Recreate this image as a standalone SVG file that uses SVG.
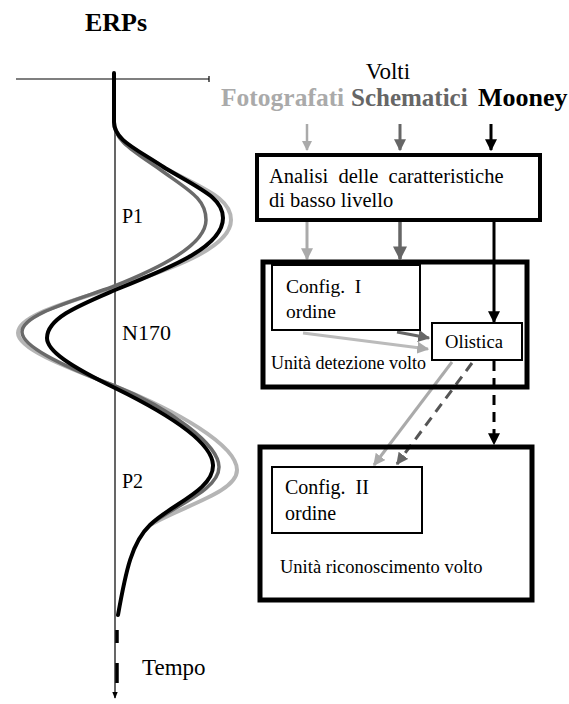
<svg xmlns="http://www.w3.org/2000/svg" width="569" height="704" viewBox="0 0 569 704">
<style>
text{font-family:'Liberation Serif','Times New Roman',serif;fill:#000}
.box{fill:#fff;stroke:#000}
.ax{stroke:#000;stroke-width:1.2;fill:none}
.crv{fill:none;stroke-linecap:round}
</style>
<defs>
<marker id="aL" viewBox="0 0 10 10" refX="9" refY="5" markerWidth="4" markerHeight="4" orient="auto"><path d="M0,0L10,5L0,10z" fill="#aaa"/></marker>
<marker id="aG" viewBox="0 0 10 10" refX="9" refY="5" markerWidth="4" markerHeight="4" orient="auto"><path d="M0,0L10,5L0,10z" fill="#666"/></marker>
<marker id="aB" viewBox="0 0 10 10" refX="9" refY="5" markerWidth="4" markerHeight="4" orient="auto"><path d="M0,0L10,5L0,10z" fill="#000"/></marker>
<marker id="aS" viewBox="0 0 10 10" refX="9" refY="5" markerWidth="6" markerHeight="6" orient="auto"><path d="M0,1L10,5L0,9z" fill="#000"/></marker>
</defs>

<g id="erp-plot">
<text x="116" y="31" font-size="26" font-weight="bold" text-anchor="middle">ERPs</text>
<line class="ax" x1="16" y1="79" x2="209" y2="79"/>
<line class="ax" x1="209" y1="76" x2="209" y2="82"/>
<line class="ax" x1="115" y1="79" x2="115" y2="698" marker-end="url(#aS)"/>
<path class="crv" stroke="#b5b5b5" stroke-width="4" d="M114,122 C114,140 135,150 165,168 C205,190 231,198 231,220 C231,248 170,270 112,288 C70,302 18,315 18,333 C18,348 60,365 115,386 C175,410 237,445 237,470 C237,492 185,505 150,525"/>
<path class="crv" stroke="#6a6a6a" stroke-width="3.5" d="M114,122 C114,140 132,150 158,168 C188,190 206,198 206,220 C206,245 160,268 112,287 C70,302 22,315 22,332 C22,346 60,365 115,386 C170,408 219,445 219,467 C219,490 175,505 150,525"/>
<path class="crv" stroke="#000" stroke-width="4" d="M114,73 L114,122 C114,140 135,148 165,168 C202,190 223,198 223,218 C223,246 175,266 115,290 C80,305 47,318 47,338 C47,351 70,366 115,388 C160,410 212,440 213,465 C214,490 170,505 150,525 C132,542 126,570 118,615"/>
<path d="M117,630 L117,643 M117,663 L117,683" stroke="#000" stroke-width="3.5"/>
<text x="122" y="223" font-size="20">P1</text>
<text x="122" y="340" font-size="22">N170</text>
<text x="122" y="488" font-size="20">P2</text>
<text x="142" y="675" font-size="23">Tempo</text>
</g>

<g id="inputs">
<text x="388" y="79" font-size="23" text-anchor="middle">Volti</text>
<text x="221" y="106" font-size="25.5" font-weight="bold" style="fill:#aaa">Fotografati</text>
<text x="351" y="106" font-size="25" font-weight="bold" style="fill:#666">Schematici</text>
<text x="478" y="106" font-size="26" font-weight="bold">Mooney</text>
</g>

<g id="connectors" fill="none">
<line x1="307" y1="124" x2="307" y2="150" stroke="#aaa" stroke-width="2.5" marker-end="url(#aL)"/>
<line x1="400" y1="124" x2="400" y2="150" stroke="#666" stroke-width="3" marker-end="url(#aG)"/>
<line x1="491" y1="124" x2="491" y2="150" stroke="#000" stroke-width="3" marker-end="url(#aB)"/>
<line x1="307" y1="220" x2="307" y2="259" stroke="#aaa" stroke-width="3" marker-end="url(#aL)"/>
<line x1="400" y1="220" x2="400" y2="259" stroke="#666" stroke-width="3.5" marker-end="url(#aG)"/>
<line x1="494" y1="220" x2="494" y2="322" stroke="#000" stroke-width="3" marker-end="url(#aB)"/>
<line x1="397" y1="332" x2="429" y2="338" stroke="#666" stroke-width="3" marker-end="url(#aG)"/>
<line x1="303" y1="333" x2="428" y2="349" stroke="#bbb" stroke-width="3" marker-end="url(#aL)"/>
<line x1="494" y1="361" x2="494" y2="444" stroke="#000" stroke-width="3" stroke-dasharray="10,7" marker-end="url(#aB)"/>
<line x1="452" y1="362" x2="374" y2="465" stroke="#aaa" stroke-width="3" marker-end="url(#aL)"/>
<line x1="472" y1="363" x2="397" y2="464" stroke="#555" stroke-width="3" stroke-dasharray="10,7" marker-end="url(#aG)"/>
</g>

<g id="analisi">
<rect class="box" x="257" y="155" width="283" height="65" stroke-width="4"/>
<text x="269" y="183" font-size="20.5" xml:space="preserve">Analisi  delle  caratteristiche</text>
<text x="269" y="207" font-size="20.5">di basso livello</text>
</g>

<g id="detezione">
<rect x="263" y="262" width="264" height="125" stroke="#000" stroke-width="5" fill="none"/>
<text x="271" y="369" font-size="18">Unità detezione volto</text>
</g>

<g id="config1">
<rect class="box" x="272" y="265" width="148" height="65" stroke-width="2"/>
<text x="286" y="293" font-size="19.5" xml:space="preserve">Config.  I</text>
<text x="286" y="318" font-size="19.5">ordine</text>
</g>

<g id="olistica">
<rect class="box" x="432" y="323" width="90" height="37" stroke-width="2"/>
<text x="474" y="348" font-size="18.6" text-anchor="middle">Olistica</text>
</g>

<g id="riconoscimento">
<rect x="260" y="447" width="272" height="153" stroke="#000" stroke-width="5" fill="none"/>
<text x="280" y="573" font-size="18.5">Unità riconoscimento volto</text>
</g>

<g id="config2">
<rect class="box" x="272" y="467" width="150" height="66" stroke-width="2"/>
<text x="285" y="494" font-size="20" xml:space="preserve">Config.  II</text>
<text x="285" y="520" font-size="20">ordine</text>
</g>
</svg>
